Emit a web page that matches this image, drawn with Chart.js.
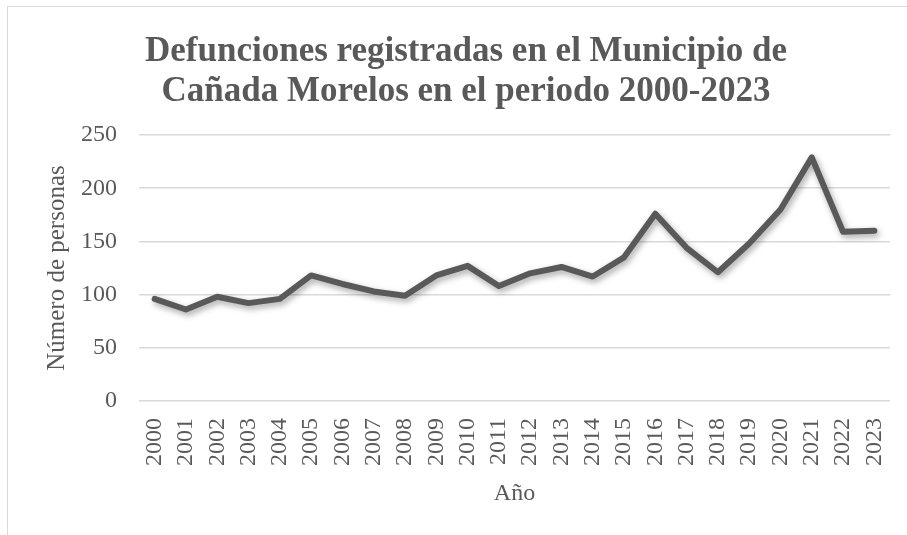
<!DOCTYPE html>
<html><head><meta charset="utf-8">
<script src="https://cdn.jsdelivr.net/npm/chart.js@4.4.1/dist/chart.umd.min.js"></script>
<style>
html,body{margin:0;padding:0;background:#fff;overflow:hidden;}
#wrap{position:relative;width:907px;height:535px;overflow:hidden;}
#frame{position:absolute;left:7px;top:6px;width:920px;height:540px;border-left:1.5px solid #d9d9d9;border-top:1.5px solid #d9d9d9;}
canvas{position:absolute;left:0;top:0;}
</style></head><body>
<div id="wrap"><div id="frame"></div><canvas id="c" width="907" height="535"></canvas></div>
<script>
const years = ['2000','2001','2002','2003','2004','2005','2006','2007','2008','2009','2010','2011','2012','2013','2014','2015','2016','2017','2018','2019','2020','2021','2022','2023'];
const deaths = [96, 86, 98, 92, 96, 118, 110, 103, 99, 118, 127, 108, 120, 126, 117, 135, 176, 144, 121, 148, 180, 229, 159, 160];
const yTicks = [0, 50, 100, 150, 200, 250];
const titleLines = ['Defunciones registradas en el Municipio de', 'Cañada Morelos en el periodo 2000-2023'];
const xTitle = 'Año';
const yTitle = 'Número de personas';

const TXT = '#595959';
const SERIF = "'Liberation Serif', 'DejaVu Serif', serif";

const shadowPlugin = {
  id: 'lineShadow',
  beforeDatasetDraw(chart) {
    const ctx = chart.ctx;
    ctx.save();
    ctx.shadowColor = 'rgba(0,0,0,0.35)';
    ctx.shadowBlur = 6;
    ctx.shadowOffsetX = 2;
    ctx.shadowOffsetY = 3;
  },
  afterDatasetDraw(chart) {
    chart.ctx.restore();
  }
};

new Chart(document.getElementById('c'), {
  type: 'line',
  data: {
    labels: years,
    datasets: [{
      data: deaths,
      borderColor: '#595959',
      borderWidth: 6,
      borderCapStyle: 'round',
      borderJoinStyle: 'round',
      pointRadius: 0,
      tension: 0,
      fill: false
    }]
  },
  options: {
    responsive: false,
    animation: false,
    devicePixelRatio: 1,
    layout: { padding: { left: 25, right: 0, top: 0, bottom: 0 } },
    plugins: {
      legend: { display: false },
      tooltip: { enabled: false },
      title: {
        display: true,
        text: titleLines,
        color: TXT,
        font: { family: SERIF, size: 35, weight: 'bold', lineHeight: 1.143 },
        padding: { top: 32, bottom: 23 }
      }
    },
    scales: {
      x: {
        type: 'category',
        offset: true,
        grid: { display: false, drawTicks: false },
        border: { display: false },
        ticks: {
          color: TXT,
          font: { family: SERIF, size: 24 },
          minRotation: 90,
          maxRotation: 90,
          autoSkip: false,
          padding: 17
        },
        title: {
          display: true,
          text: xTitle,
          color: TXT,
          font: { family: SERIF, size: 24, lineHeight: 1.2 },
          padding: { top: 27, bottom: 27 }
        },
        afterFit(scale) {
          scale.height = 134;
          scale.paddingRight = 17;
          scale.paddingLeft = 0;
        }
      },
      y: {
        min: 0,
        max: 250,
        afterBuildTicks(scale) { scale.ticks = yTicks.map(v => ({ value: v })); },
        grid: { color: '#d9d9d9', lineWidth: 1.5, drawTicks: false },
        border: { display: false },
        ticks: {
          color: TXT,
          font: { family: SERIF, size: 24 },
          padding: 22
        },
        title: {
          display: true,
          text: yTitle,
          color: TXT,
          font: { family: SERIF, size: 25, lineHeight: 1.2 },
          padding: { top: 17, bottom: 0 }
        },
        afterFit(scale) { scale.width = 114; }
      }
    }
  },
  plugins: [shadowPlugin]
});
</script>
</body></html>
